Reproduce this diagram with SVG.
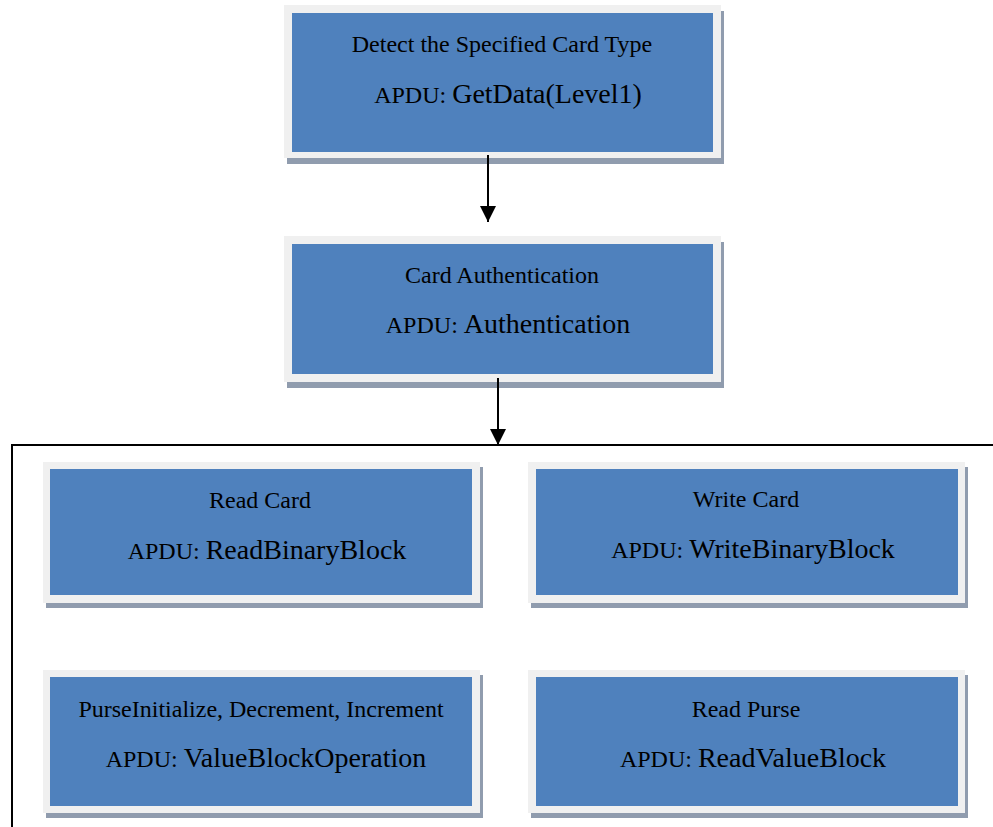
<svg xmlns="http://www.w3.org/2000/svg" width="993" height="827" viewBox="0 0 993 827">
<defs>
<style>
.sh{fill:#909cae}
.fr{fill:#f0f0f0}
.bl{fill:#4f81bd}
text{font-family:"Liberation Serif","Times New Roman",serif;fill:#000;text-anchor:middle}
.t1{font-size:24px}
.big{font-size:28px}
.ln{stroke:#000;stroke-width:2;fill:none}
</style>
<marker id="ah" markerWidth="16" markerHeight="16" viewBox="0 0 16 16" refX="16" refY="8" orient="auto" markerUnits="userSpaceOnUse">
<path d="M0,0 L16,8 L0,16 Z" fill="#000"/>
</marker>
</defs>
<rect width="993" height="827" fill="#fff"/>
<g id="node-detect">
<rect class="sh" x="287" y="11" width="437" height="153"/>
<rect class="fr" x="284" y="5" width="437" height="153"/>
<rect class="bl" x="292" y="13" width="421" height="139"/>
<text class="t1" x="502" y="52">Detect the Specified Card Type</text>
<text class="t1" x="508" y="103">APDU: <tspan class="big">GetData(Level1)</tspan></text>
</g>
<g id="node-auth">
<rect class="sh" x="287" y="242" width="437" height="146"/>
<rect class="fr" x="284" y="236" width="437" height="146"/>
<rect class="bl" x="292" y="244" width="421" height="130"/>
<text class="t1" x="502" y="283">Card Authentication</text>
<text class="t1" x="508" y="333">APDU: <tspan class="big">Authentication</tspan></text>
</g>
<g id="node-read">
<rect class="sh" x="46" y="467" width="437" height="141"/>
<rect class="fr" x="43" y="462" width="437" height="141"/>
<rect class="bl" x="50" y="469" width="422" height="126"/>
<text class="t1" x="260" y="508">Read Card</text>
<text class="t1" x="267" y="559">APDU: <tspan class="big">ReadBinaryBlock</tspan></text>
</g>
<g id="node-write">
<rect class="sh" x="531" y="467" width="437" height="141"/>
<rect class="fr" x="528" y="462" width="437" height="141"/>
<rect class="bl" x="536" y="469" width="422" height="126"/>
<text class="t1" x="746" y="507">Write Card</text>
<text class="t1" x="753" y="558">APDU: <tspan class="big">WriteBinaryBlock</tspan></text>
</g>
<g id="node-purse">
<rect class="sh" x="46" y="675" width="437" height="143"/>
<rect class="fr" x="43" y="670" width="437" height="143"/>
<rect class="bl" x="50" y="677" width="422" height="129"/>
<text class="t1" x="261" y="717">PurseInitialize, Decrement, Increment</text>
<text class="t1" x="266" y="767">APDU: <tspan class="big">ValueBlockOperation</tspan></text>
</g>
<g id="node-readpurse">
<rect class="sh" x="531" y="675" width="437" height="143"/>
<rect class="fr" x="528" y="670" width="437" height="143"/>
<rect class="bl" x="536" y="677" width="422" height="129"/>
<text class="t1" x="746" y="717">Read Purse</text>
<text class="t1" x="753" y="767">APDU: <tspan class="big">ReadValueBlock</tspan></text>
</g>
<g id="connectors">
<line class="ln" x1="488" y1="155" x2="488" y2="222" marker-end="url(#ah)"/>
<line class="ln" x1="498" y1="378" x2="498" y2="445" marker-end="url(#ah)"/>
<polyline class="ln" points="12,827 12,445 993,445"/>
</g>
</svg>
